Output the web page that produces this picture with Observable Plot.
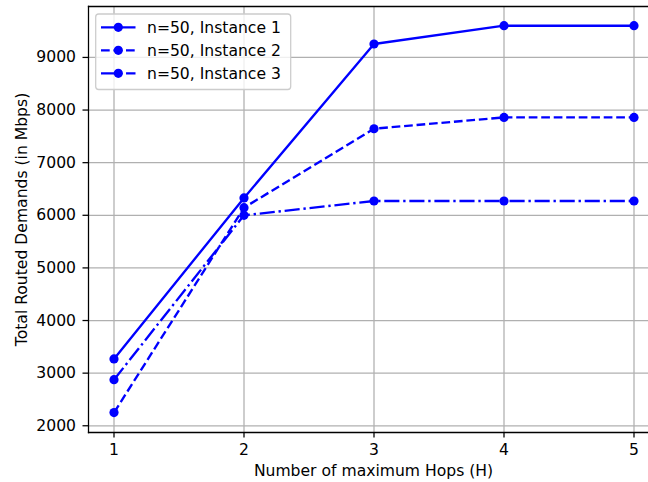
<!DOCTYPE html>
<html>
<head>
<meta charset="utf-8">
<script src="https://cdn.jsdelivr.net/npm/d3@7"></script>
<script src="https://cdn.jsdelivr.net/npm/@observablehq/plot@0.6"></script>
<style>
  html, body { margin: 0; padding: 0; background: white; }
  #chart { width: 648px; height: 482px; overflow: hidden; }
</style>
</head>
<body>
<div id="chart"></div>
<script>
const hops = [1, 2, 3, 4, 5];
const instance1 = [3270, 6330, 9255, 9603, 9603];
const instance2 = [2250, 6145, 7645, 7860, 7860];
const instance3 = [2875, 6000, 6272, 6272, 6272];
const seriesNames = ["n=50, Instance 1", "n=50, Instance 2", "n=50, Instance 3"];
const xTicks = [1, 2, 3, 4, 5];
const yTicks = [2000, 3000, 4000, 5000, 6000, 7000, 8000, 9000];
const xLabel = "Number of maximum Hops (H)";
const yLabel = "Total Routed Demands (in Mbps)";

const blue = "#0000ff";
const FS = 15.6;
const LW = 2.35;
const dashes = ["none", "8.7,3.8", "15.1,3.8,2.35,3.8"];
const allSeries = [instance1, instance2, instance3];
const data = allSeries.flatMap((vals, i) => hops.map((h, j) => ({series: seriesNames[i], idx: i, x: h, y: vals[j]})));

const lineMarks = allSeries.map((vals, i) =>
  Plot.line(data.filter(d => d.idx === i), {x: "x", y: "y", stroke: blue, strokeWidth: LW, strokeDasharray: dashes[i], strokeLinejoin: "round", strokeLinecap: "butt"})
);

const chart = Plot.plot({
  width: 648,
  height: 482,
  marginLeft: 88,
  marginRight: 0,
  marginTop: 6,
  marginBottom: 50,
  style: {fontFamily: "DejaVu Sans", fontSize: FS + "px", color: "black", background: "white"},
  x: {domain: [0.8, 5.2], range: [87.5, 659.5]},
  y: {domain: [1872, 9968]},
  marks: [
    Plot.gridX(xTicks, {stroke: "#b0b0b0", strokeOpacity: 1, strokeWidth: 1.26}),
    Plot.gridY(yTicks, {stroke: "#b0b0b0", strokeOpacity: 1, strokeWidth: 1.26}),
    ...lineMarks,
    Plot.dot(data, {x: "x", y: "y", r: 4.6, fill: blue, stroke: "none"}),
    Plot.frame({anchor: "left", stroke: "black", strokeWidth: 1.26}),
    Plot.frame({anchor: "bottom", stroke: "black", strokeWidth: 1.26}),
    Plot.frame({anchor: "top", stroke: "black", strokeWidth: 1.26}),
    Plot.axisX(xTicks, {tickSize: 5.5, tickPadding: 5.5, label: null, fontSize: FS, strokeWidth: 1.26, tickFormat: d => String(d)}),
    Plot.axisY(yTicks, {tickSize: 5.5, tickPadding: 7, label: null, fontSize: FS, strokeWidth: 1.26, tickFormat: d => String(d)}),
    Plot.text([xLabel], {frameAnchor: "bottom", textAnchor: "middle", lineAnchor: "middle", dx: 5, dy: 38, fontSize: FS, fill: "black"}),
    Plot.text([yLabel], {frameAnchor: "left", textAnchor: "middle", lineAnchor: "middle", rotate: -90, dx: -67, fontSize: FS, fill: "black"})
  ]
});

document.getElementById("chart").appendChild(chart);

// Legend (matplotlib style, inside the axes at upper left)
const svg = d3.select(chart);
const lg = svg.append("g").attr("font-family", "DejaVu Sans").attr("font-size", FS).attr("text-anchor", "start");
lg.append("rect")
  .attr("x", 95.7).attr("y", 14).attr("width", 195).attr("height", 75.5)
  .attr("rx", 3).attr("fill", "white").attr("fill-opacity", 0.8)
  .attr("stroke", "#cccccc").attr("stroke-width", 1.26);
seriesNames.forEach((name, i) => {
  const yy = 27.3 + i * 23;
  lg.append("line").attr("x1", 101).attr("x2", 135.5).attr("y1", yy).attr("y2", yy)
    .attr("stroke", blue).attr("stroke-width", LW).attr("stroke-dasharray", dashes[i]);
  lg.append("circle").attr("cx", 118.3).attr("cy", yy).attr("r", 4.6).attr("fill", blue);
  lg.append("text").attr("x", 147).attr("y", yy).attr("dy", "0.35em").attr("text-anchor", "start").attr("fill", "black").text(name);
});
</script>
</body>
</html>
